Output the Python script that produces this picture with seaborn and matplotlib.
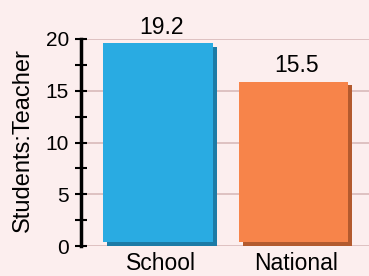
import matplotlib
matplotlib.use("Agg")
import matplotlib.pyplot as plt
import matplotlib.patheffects as pe
from matplotlib.transforms import ScaledTranslation
import seaborn as sns

# data
categories = ["School", "National"]
ratios = [19.2, 15.5]
bar_colors = ["#29ABE2", "#F7844A"]
shadow_colors = ["#1C7BA6", "#B35A2E"]
major_ticks = [0, 5, 10, 15, 20]
minor_ticks = [2.5, 7.5, 12.5, 17.5]

sns.set_style("white")
plt.rcParams["font.family"] = ["Liberation Sans", "DejaVu Sans"]
plt.rcParams["text.color"] = "black"
plt.rcParams["axes.labelcolor"] = "black"
plt.rcParams["xtick.color"] = "black"
plt.rcParams["ytick.color"] = "black"

bg = "#FCEEEE"
fig = plt.figure(figsize=(3.69, 2.76), dpi=100, facecolor=bg)
ax = fig.add_axes([85 / 369, 30 / 276, 284 / 369, 207 / 276], facecolor=bg)

sns.barplot(x=categories, y=ratios, hue=categories, palette=bar_colors,
            saturation=1, width=0.81, legend=False, ax=ax)

# fake 3D look: shift the front face up-left and add a dark offset shadow
shift = ScaledTranslation(-0.03, 0.04, fig.dpi_scale_trans)
for patch, sc in zip(ax.patches, shadow_colors):
    patch.set_transform(ax.transData + shift)
    patch.set_clip_on(False)
    patch.set_linewidth(0)
    patch.set_path_effects([pe.SimplePatchShadow(offset=(2.8, -2.8), shadow_rgbFace=sc, alpha=1.0),
                            pe.Normal()])

for cont in ax.containers:
    ax.bar_label(cont, fmt="%.1f", padding=6, fontsize=16.5, color="black")

ax.set_xlim(-0.561, 1.535)
ax.set_ylim(0, 20)
ax.set_yticks(major_ticks)
ax.set_yticks(minor_ticks, minor=True)
ax.yaxis.grid(True, color="#D8BABA", linewidth=1.2)
ax.xaxis.grid(False)
ax.set_axisbelow(True)

for s in ["top", "right", "bottom"]:
    ax.spines[s].set_visible(False)
ax.spines["left"].set_position(("outward", 3))
ax.spines["left"].set_linewidth(2.5)
ax.spines["left"].set_color("black")

ax.tick_params(axis="y", which="both", direction="inout", length=9, width=1.5,
               color="black", labelsize=15, pad=4, left=True)
ax.tick_params(axis="x", length=0, labelsize=16.5, pad=4)

ax.set_ylabel("Students:Teacher", fontsize=17)
ax.yaxis.set_label_coords(-0.18, 0.512)

fig.savefig("out.png", dpi=100, facecolor=bg)
